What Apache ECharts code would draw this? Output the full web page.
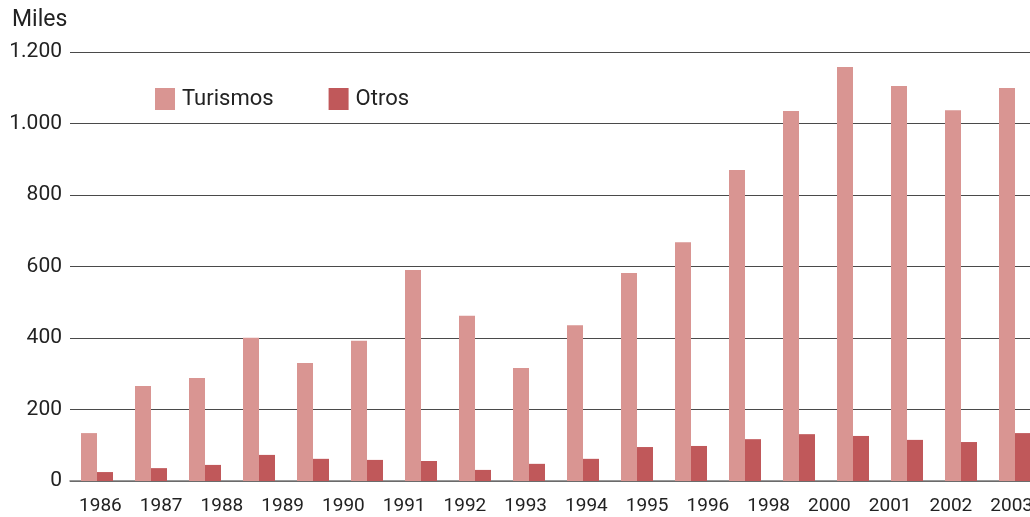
<!DOCTYPE html>
<html>
<head>
<meta charset="utf-8">
<script src="https://cdn.jsdelivr.net/npm/echarts@6/dist/echarts.min.js"></script>
<style>
  html, body { margin: 0; padding: 0; background: #fff; }
  #chart { width: 1030px; height: 517px; }
</style>
</head>
<body>
<div id="chart"></div>
<script>
// one bar pair per year
var years = ['1986', '1987', '1988', '1989', '1990', '1991', '1992', '1993', '1994',
  '1995', '1996', '1997', '1998', '1999', '2000', '2001', '2002', '2003'];
// labels printed under the axis in the original (1997 and 1999 are not printed)
var yearLabels = ['1986', '1987', '1988', '1989', '1990', '1991', '1992', '1993',
  '1994', '1995', '1996', '1998', '2000', '2001', '2002', '2003'];
var turismos = [134, 266, 288, 401, 330, 392, 590, 462, 316, 436, 582, 668, 870, 1035, 1158, 1105, 1037, 1099];
var otros = [25, 36, 45, 73, 62, 59, 56, 31, 48, 62, 95, 98, 117, 131, 126, 115, 109, 134];
var yTicks = [0, 200, 400, 600, 800, 1000, 1200];

function fmt (v) {
  // spanish thousands separator
  return String(v).replace(/\B(?=(\d{3})+(?!\d))/g, '.');
}

var chart = echarts.init(document.getElementById('chart'));
chart.setOption({
  animation: false,
  color: ['#d99592', '#c0585a'],
  title: {
    text: 'Miles',
    left: 7,
    top: 4,
    textStyle: { fontFamily: 'Roboto', fontSize: 23, fontWeight: 'normal', color: '#222' }
  },
  legend: {
    data: ['Turismos', 'Otros'],
    left: 150,
    top: 83,
    itemWidth: 20,
    itemHeight: 22,
    itemGap: 55,
    icon: 'rect',
    textStyle: { fontFamily: 'Roboto', fontSize: 22, color: '#222', padding: [0, 0, 0, 2] }
  },
  // grid runs a bit past the right edge, like the cropped original
  grid: { left: 70, width: 972, top: 52, bottom: 36, containLabel: false, outerBoundsMode: 'none' },
  xAxis: [
    {
      type: 'category',
      data: years,
      axisLine: { show: true, lineStyle: { color: '#777', width: 1.5 } },
      axisTick: { show: false },
      axisLabel: { show: false }
    },
    {
      type: 'category',
      data: yearLabels,
      position: 'bottom',
      axisLine: { show: false },
      axisTick: { show: false },
      axisLabel: {
        margin: 16,
        fontFamily: 'Roboto',
        fontSize: 19,
        color: '#222'
      }
    }
  ],
  yAxis: {
    type: 'value',
    min: yTicks[0],
    max: yTicks[yTicks.length - 1],
    interval: yTicks[1] - yTicks[0],
    axisLine: { show: false },
    axisTick: { show: false },
    splitLine: { lineStyle: { color: '#4a4a4a', width: 1.2 } },
    axisLabel: {
      margin: 8,
      fontFamily: 'Roboto',
      fontSize: 21,
      color: '#222',
      formatter: fmt
    }
  },
  series: [
    {
      name: 'Turismos',
      type: 'bar',
      xAxisIndex: 0,
      barWidth: 16,
      barGap: '0%',
      data: turismos
    },
    {
      name: 'Otros',
      type: 'bar',
      xAxisIndex: 0,
      barWidth: 16,
      barGap: '0%',
      data: otros
    }
  ]
});
</script>
</body>
</html>
